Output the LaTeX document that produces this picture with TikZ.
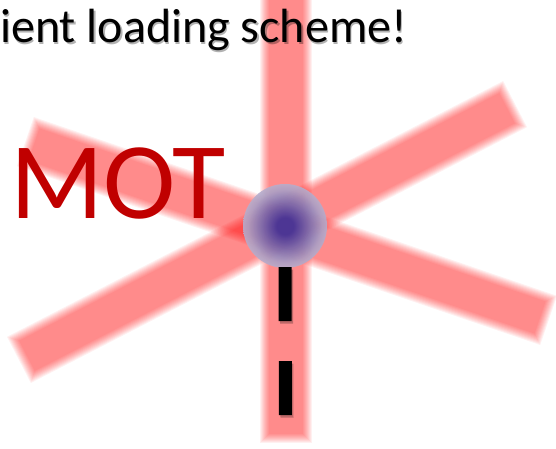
\documentclass[tikz,border=0pt]{standalone}
\usepackage{fontspec}
\setmainfont{Carlito}

\definecolor{beamred}{RGB}{255,0,0}
\definecolor{motred}{RGB}{192,0,0}
\definecolor{atomblue}{RGB}{58,56,160}
\definecolor{atommid}{RGB}{172,162,198}
\definecolor{atomedge}{RGB}{230,222,230}

% cloud of cold atoms: dense blue core, pale rim
\pgfdeclareradialshading{atomcloud}{\pgfpoint{0bp}{0bp}}{%
  color(0bp)=(atomblue); color(5bp)=(atomblue);
  color(22bp)=(atommid); color(40bp)=(atomedge); color(50bp)=(atomedge)}

\tikzset{
  beam/.style={draw=beamred, draw opacity=0.058, line cap=rect},
  probe/.style={line width=13pt, dash pattern=on 54pt off 40pt},
}

% soft laser beam: stacked faint strokes give a blurred edge
\newcommand{\laserbeam}[2]{%
  \foreach \w in {34,36,...,52}
    \draw[beam, line width=\w pt] (#1) -- (#2);}

\begin{document}
\begin{tikzpicture}[x=1pt,y=-1pt]
  \useasboundingbox (0,0) rectangle (556,449);
  \clip (0,0) rectangle (556,449);

  % beam end points
  \coordinate (v1) at (286,-30);
  \coordinate (v2) at (286,417);
  \coordinate (a1) at (50,150);
  \coordinate (a2) at (524,312);
  \coordinate (b1) at (42,348);
  \coordinate (b2) at (492,116);

  \laserbeam{v1}{v2}
  \laserbeam{a1}{a2}
  \laserbeam{b1}{b2}

  \node[circle, minimum size=84pt, inner sep=0pt, shade, shading=atomcloud,
        opacity=0.9] (cloud) at (285,226) {};

  % dashed line below the cloud
  \coordinate (probe end) at (285.5,417);
  \draw[probe, black, opacity=0.25] ([shift={(1.5,1.5)}]cloud.south) -- ([shift={(1.5,1.5)}]probe end);
  \draw[probe, black] ([yshift=1]cloud.south) -- (probe end);

  \node[anchor=base west, inner sep=0pt, text=black, opacity=0.3,
        font=\fontsize{48}{56}\selectfont] (title shadow) at (1.5,44.5) {ient loading scheme!};
  \node[anchor=base west, inner sep=0pt,
        font=\fontsize{48}{56}\selectfont] (title) at (0,43) {ient loading scheme!};
  \node[anchor=base west, inner sep=0pt, text=motred,
        font=\fontsize{109}{120}\selectfont] (mot) at (10,218) {MOT};
\end{tikzpicture}
\end{document}
